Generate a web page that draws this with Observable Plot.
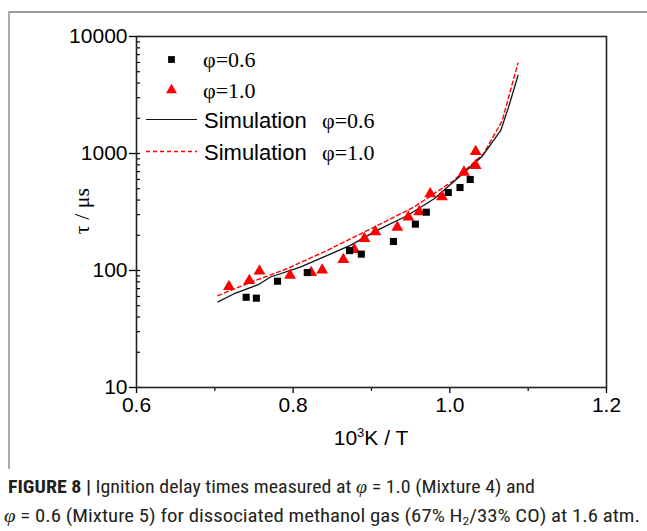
<!DOCTYPE html>
<html>
<head>
<meta charset="utf-8">
<script src="https://cdn.jsdelivr.net/npm/d3@7"></script>
<script src="https://cdn.jsdelivr.net/npm/@observablehq/plot@0.6"></script>
<style>
  html, body { margin: 0; padding: 0; background: #fff; }
  #wrap { position: relative; width: 647px; height: 531px; overflow: hidden; background: #fff; }
  #chart { position: absolute; left: 0; top: 0; }
  #frameTop { position: absolute; left: 8px; top: 11px; width: 650px; height: 0; border-top: 2px solid #999; }
  #frameLeft { position: absolute; left: 8px; top: 11px; width: 0; height: 458px; border-left: 2px solid #aaa; }
  .cap { position: absolute; white-space: nowrap; font-family: "Liberation Sans Narrow", "Roboto Condensed", "Liberation Sans", Arial, sans-serif; font-size: 18px; color: #231f20; transform-origin: 0 0; }
  .cap b { font-weight: bold; }
  .cap i.phi { font-family: "Liberation Serif", "DejaVu Serif", serif; font-style: italic; }
  .cap sub { font-size: 0.65em; vertical-align: -0.25em; line-height: 0; }
</style>
</head>
<body>
<div id="wrap">
  <div id="frameTop"></div>
  <div id="frameLeft"></div>
  <div id="chart"></div>
  <div class="cap" id="cap1" data-w="527" style="left:8px; top:476px;"><b>FIGURE 8 |</b> Ignition delay times measured at <i class="phi">φ</i> = 1.0 (Mixture 4) and</div>
  <div class="cap" id="cap2" data-w="636" style="left:4px; top:505px;"><i class="phi">φ</i> = 0.6 (Mixture 5) for dissociated methanol gas (67% H<sub>2</sub>/33% CO) at 1.6 atm.</div>
</div>
<script>
// Experimental data, φ = 0.6 (squares)
const exp06X = [0.740, 0.753, 0.780, 0.818, 0.872, 0.887, 0.928, 0.956, 0.970, 0.998, 1.013, 1.026];
const exp06T = [59, 58, 81, 96, 148, 138, 177, 249, 315, 464, 512, 600];
// Experimental data, φ = 1.0 (triangles)
const exp10X = [0.718, 0.744, 0.757, 0.796, 0.823, 0.837, 0.864, 0.878, 0.891, 0.905, 0.933, 0.947, 0.961, 0.975, 0.990, 1.018, 1.033, 1.033];
const exp10T = [73, 82, 99, 91, 96, 101, 124, 151, 187, 214, 234, 286, 318, 453, 427, 692, 789, 1040];
// Simulation, φ = 0.6 (solid black)
const sim06X = [0.704, 0.724, 0.756, 0.771, 0.809, 0.843, 0.873, 0.907, 0.946, 0.980, 1.014, 1.041, 1.065, 1.075, 1.087];
const sim06T = [54, 63, 76, 88, 107, 134, 164, 220, 295, 410, 649, 942, 1574, 2489, 4645];
// Simulation, φ = 1.0 (dashed red)
const sim10X = [0.704, 0.744, 0.792, 0.843, 0.899, 0.954, 1.005, 1.043, 1.067, 1.075, 1.087];
const sim10T = [61, 78.5, 103.5, 148, 227, 348, 588, 993, 1915, 3027, 5915];
// Axis ticks
const xMajor = [0.6, 0.8, 1.0, 1.2];
const xMinor = [0.7, 0.9, 1.1];
const yMajor = [10, 100, 1000, 10000];
const yMinor = [20,30,40,50,60,70,80,90,200,300,400,500,600,700,800,900,2000,3000,4000,5000,6000,7000,8000,9000];

const toRows = (xs, ys) => xs.map((x, i) => ({x, y: ys[i]}));
const e06 = toRows(exp06X, exp06T);
const e10 = toRows(exp10X, exp10T);
const s06 = toRows(sim06X, sim06T);
const s10 = toRows(sim10X, sim10T);

const plot = Plot.plot({
  width: 647,
  height: 460,
  marginLeft: 136,
  marginRight: 41,
  marginTop: 36,
  marginBottom: 73,
  x: {domain: [0.6, 1.2]},
  y: {type: "log", domain: [10, 10000]},
  style: {fontFamily: "'Liberation Sans', Arial, sans-serif", fontSize: "21px", color: "#000", background: "transparent", overflow: "visible"},
  marks: [
    Plot.axisX({ticks: xMajor, tickSize: 6, tickPadding: 4, tickFormat: d => d.toFixed(1), label: null, fontSize: 21, strokeWidth: 1.3}),
    Plot.axisX({ticks: xMinor, tickSize: 4, tickFormat: () => "", label: null, strokeWidth: 1.2}),
    Plot.axisY({ticks: yMajor, tickSize: 7, tickPadding: 2, tickFormat: d => String(d), label: null, fontSize: 21, strokeWidth: 1.3}),
    Plot.axisY({ticks: yMajor.concat(yMinor), tickSize: -4, tickFormat: () => "", label: null, strokeWidth: 1.2}),
    Plot.line(s10, {x: "x", y: "y", stroke: "#ff0000", strokeWidth: 1.4, strokeDasharray: "4,3"}),
    Plot.line(s06, {x: "x", y: "y", stroke: "#111", strokeWidth: 1.3}),
    Plot.dot(e10, {x: "x", y: "y", symbol: "triangle", fill: "#ff0000", r: 4.4}),
    Plot.dot(e06, {x: "x", y: "y", symbol: "square", fill: "#000", r: 4}),
    Plot.frame({stroke: "#222", strokeWidth: 1.6})
  ]
});
document.getElementById("chart").appendChild(plot);

// Axis titles and legend
const svg = d3.select(plot);
svg.append("text")
  .attr("transform", "translate(89,211) rotate(-90)")
  .attr("text-anchor", "middle")
  .attr("font-family", "'Liberation Serif', 'DejaVu Serif', serif")
  .attr("font-size", 22)
  .attr("fill", "#000")
  .text("τ / μs");
const xl = svg.append("text")
  .attr("x", 371).attr("y", 445)
  .attr("text-anchor", "middle")
  .attr("font-family", "'Liberation Sans', Arial, sans-serif")
  .attr("font-size", 21)
  .attr("fill", "#000");
xl.append("tspan").text("10");
xl.append("tspan").attr("font-size", 13).attr("dy", -8).text("3");
xl.append("tspan").attr("dy", 8).text("K / T");

const lg = svg.append("g").attr("text-anchor", "start");
const serif = "'Liberation Serif', 'Times New Roman', serif";
const sans = "'Liberation Sans', Arial, sans-serif";
lg.append("path").attr("d", d3.symbol(d3.symbolSquare, 46)()).attr("transform", "translate(171.5,59.5)").attr("fill", "#000");
lg.append("path").attr("d", d3.symbol(d3.symbolTriangle, 52)()).attr("transform", "translate(171.5,90)").attr("fill", "#ff0000");
lg.append("line").attr("x1", 146).attr("x2", 197).attr("y1", 119.5).attr("y2", 119.5).attr("stroke", "#111").attr("stroke-width", 1.2);
lg.append("line").attr("x1", 146).attr("x2", 197).attr("y1", 151.5).attr("y2", 151.5).attr("stroke", "#ff0000").attr("stroke-width", 1.5).attr("stroke-dasharray", "4,3");
const lgText = [
  {x: 203, y: 67, t: "φ=0.6", f: serif},
  {x: 203, y: 97.5, t: "φ=1.0", f: serif},
  {x: 204, y: 128, t: "Simulation", f: sans},
  {x: 322, y: 128, t: "φ=0.6", f: serif},
  {x: 204, y: 160, t: "Simulation", f: sans},
  {x: 322, y: 160, t: "φ=1.0", f: serif}
];
lg.selectAll("text.lg").data(lgText).join("text")
  .attr("x", d => d.x).attr("y", d => d.y)
  .attr("text-anchor", "start")
  .attr("font-family", d => d.f).attr("font-size", 22).attr("fill", "#000")
  .text(d => d.t);

// Fit caption lines to their measured widths
document.querySelectorAll(".cap").forEach(el => {
  const w = el.getBoundingClientRect().width;
  const target = +el.dataset.w;
  el.style.transform = `scaleX(${target / w})`;
});
</script>
</body>
</html>
